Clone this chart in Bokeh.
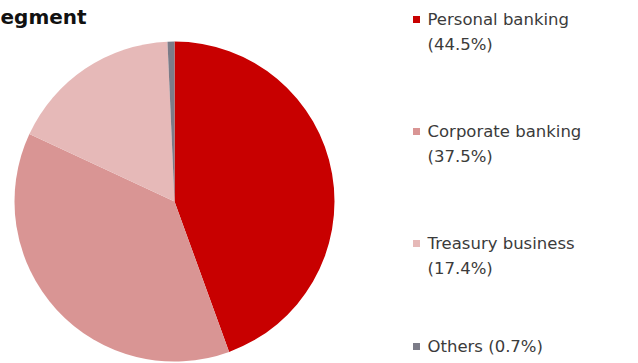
import math
from bokeh.plotting import figure
from bokeh.models import ColumnDataSource, Range1d
from bokeh.core.properties import value
from bokeh.embed import file_html
from bokeh.resources import INLINE

# Data
segments = ["Personal banking", "Corporate banking", "Treasury business", "Others"]
shares = [44.5, 37.5, 17.4, 0.7]
colors = ["#C80000", "#D99594", "#E6B9B8", "#7C7C88"]
legend_line1 = ["Personal banking", "Corporate banking", "Treasury business", "Others (0.7%)"]
legend_line2 = ["(44.5%)", "(37.5%)", "(17.4%)", ""]
title_text = "egment"

W, H = 638, 363
p = figure(width=W, height=H, output_backend="svg", toolbar_location=None,
           x_range=Range1d(0, W), y_range=Range1d(0, H), min_border=0)
p.axis.visible = False
p.grid.visible = False
p.outline_line_color = None
p.background_fill_color = "white"
p.border_fill_color = "white"

# Pie, clockwise from 12 o'clock
total = sum(shares)
starts, ends = [], []
cum = 0.0
for s in shares:
    c0 = cum / total
    cum += s
    c1 = cum / total
    starts.append(math.pi / 2 - 2 * math.pi * c1)
    ends.append(math.pi / 2 - 2 * math.pi * c0)

cx, cy, r = 174, H - 201, 160
src = ColumnDataSource(dict(start=starts, end=ends, color=colors, name=segments))
p.wedge(x=cx, y=cy, radius=r, start_angle="start", end_angle="end",
        direction="anticlock", fill_color="color", line_color=None, source=src)

# Legend (manual)
row_y = [19, 131, 243, 346]  # screen y of first line centres
mx = 416
tx = 427
font = value("DejaVu Sans")
for i in range(len(segments)):
    y1 = H - row_y[i]
    p.rect(x=[mx], y=[y1], width=7, height=7, fill_color=colors[i], line_color=None)
    p.text(x=[tx], y=[y1], text=[legend_line1[i]], text_font=font,
           text_font_size="16.5px", text_color="#3b3b3b", text_baseline="middle")
    if legend_line2[i]:
        p.text(x=[tx], y=[y1 - 25], text=[legend_line2[i]], text_font=font,
               text_font_size="16.5px", text_color="#3b3b3b", text_baseline="middle")

# Title at the top left
p.text(x=[0], y=[H - 16], text=[title_text], text_font=font, text_font_style="bold",
       text_font_size="20px", text_color="#111111", text_baseline="alphabetic")

open("out.html", "w").write(file_html(p, INLINE))
